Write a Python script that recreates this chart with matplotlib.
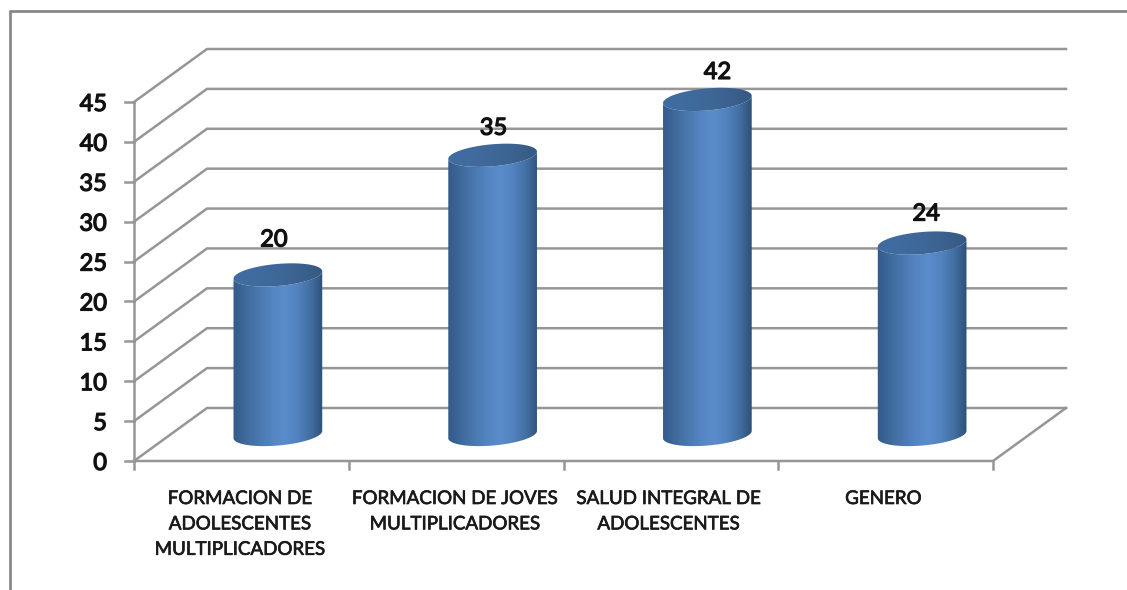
import numpy as np
import matplotlib
matplotlib.use('Agg')
import matplotlib.pyplot as plt
import matplotlib.patheffects as pe
from matplotlib.colors import LinearSegmentedColormap
from matplotlib.patches import Polygon
from matplotlib.lines import Line2D

categories = ['FORMACION DE\nADOLESCENTES\nMULTIPLICADORES', 'FORMACION DE JOVES\nMULTIPLICADORES',
              'SALUD INTEGRAL DE\nADOLESCENTES', 'GENERO']
values = [20, 35, 42, 24]
y_ticks = [0, 5, 10, 15, 20, 25, 30, 35, 40, 45]

plt.rcParams['font.family'] = ['Lato', 'DejaVu Sans']
W, H = 1127, 590
GREY = '#969696'

fig = plt.figure(figsize=(W / 100, H / 100), dpi=100)
# axes = front plane of the 3D box
left, right, bottom, top = 134, 993, 461, 102
ax = fig.add_axes([left / W, 1 - bottom / H, (right - left) / W, (bottom - top) / H])
ax.set_xlim(0, 4)
ax.set_ylim(0, 45)
ax.axis('off')

px_x = (right - left) / 4
px_y = (bottom - top) / 45
depth_x = 73 / px_x
depth_y = 53 / px_y

# fake the heavier weight of the original font
heavy = [pe.withStroke(linewidth=0.9, foreground='#111111')]
medium = [pe.withStroke(linewidth=0.5, foreground='#1a1a1a')]

# outer frame
fig.add_artist(Line2D([9.5 / W, 9.5 / W, 1], [0, 1 - 11 / H, 1 - 11 / H], color='#888888', lw=2))

# walls
for v in y_ticks:
    ax.plot([0, depth_x, 4 + depth_x], [v, v + depth_y, v + depth_y], color=GREY, lw=1.8, clip_on=False, zorder=1)
ax.plot([0, 4, 4 + depth_x], [0, 0, depth_y], color=GREY, lw=1.8, clip_on=False, zorder=1)
ax.plot([0, 0], [0, 45], color=GREY, lw=1.8, clip_on=False, zorder=1)

# ticks
for v in y_ticks:
    ax.plot([-9 / px_x, 0], [v, v], color=GREY, lw=1.8, clip_on=False, zorder=1)
    ax.text(-27 / px_x, v - 2.5 / px_y, str(v), ha='right', va='center', fontsize=17, color='#111111', path_effects=heavy)
for i in range(5):
    ax.plot([i, i], [0, -8 / px_y], color=GREY, lw=1.8, clip_on=False, zorder=1)

label_x = [0.494, 1.495, 2.49, 3.49]
for i, c in enumerate(categories):
    ax.text(label_x[i], -29 / px_y, c, ha='center', va='top', fontsize=13.5,
            color='#1a1a1a', linespacing=1.6, path_effects=medium)

body_cmap = LinearSegmentedColormap.from_list('body', ['#33598a', '#3f6a9c', '#4a78ae', '#5485c2', '#5a8ccb', '#5283bf', '#4270a3', '#2f5078'])
top_cmap = LinearSegmentedColormap.from_list('cap', ['#3f6ca2', '#406b9e', '#3f6898', '#3b618f', '#355982'])
grad = np.linspace(0, 1, 256).reshape(1, -1)

a, b, tilt = 44.5, 11, np.radians(5)
t = np.linspace(0, 2 * np.pi, 361)
ex = a * np.cos(t) * np.cos(tilt) - b * np.sin(t) * np.sin(tilt)
ey = a * np.cos(t) * np.sin(tilt) + b * np.sin(t) * np.cos(tilt)
i_l, i_r = np.argmin(ex), np.argmax(ex)

label_dx = [-4, 1, 10, 4]
label_dy = [35, 27, 27, 29]

for i, v in enumerate(values):
    cx = i + 0.5 + depth_x / 2
    y0 = depth_y / 2
    y1 = v + depth_y / 2
    bx, by = cx + ex / px_x, y0 + ey / px_y
    tx, ty = cx + ex / px_x, y1 + ey / px_y
    # body outline: lower half of base ellipse, then back along the top ellipse
    body = np.concatenate([
        np.column_stack([bx[i_l:i_r + 1], by[i_l:i_r + 1]]),
        np.column_stack([tx[i_l:i_r + 1][::-1], ty[i_l:i_r + 1][::-1]]),
    ])
    extent = [cx - 45 / px_x, cx + 45 / px_x, y0 - 15 / px_y, y1 + 15 / px_y]
    im = ax.imshow(grad, extent=extent, aspect='auto', cmap=body_cmap, zorder=3)
    im.set_clip_path(Polygon(body, closed=True, transform=ax.transData))
    im.set_clip_box(fig.bbox)
    im2 = ax.imshow(grad, extent=extent, aspect='auto', cmap=top_cmap, zorder=4)
    im2.set_clip_path(Polygon(np.column_stack([tx, ty]), closed=True, transform=ax.transData))
    im2.set_clip_box(fig.bbox)
    ax.text(cx + label_dx[i] / px_x, y1 + label_dy[i] / px_y, str(v), ha='center', va='center',
            fontsize=17, color='#111111', zorder=5, clip_on=False, path_effects=heavy)

ax.set_xlim(0, 4)
ax.set_ylim(0, 45)
fig.savefig('out.png', dpi=100)
